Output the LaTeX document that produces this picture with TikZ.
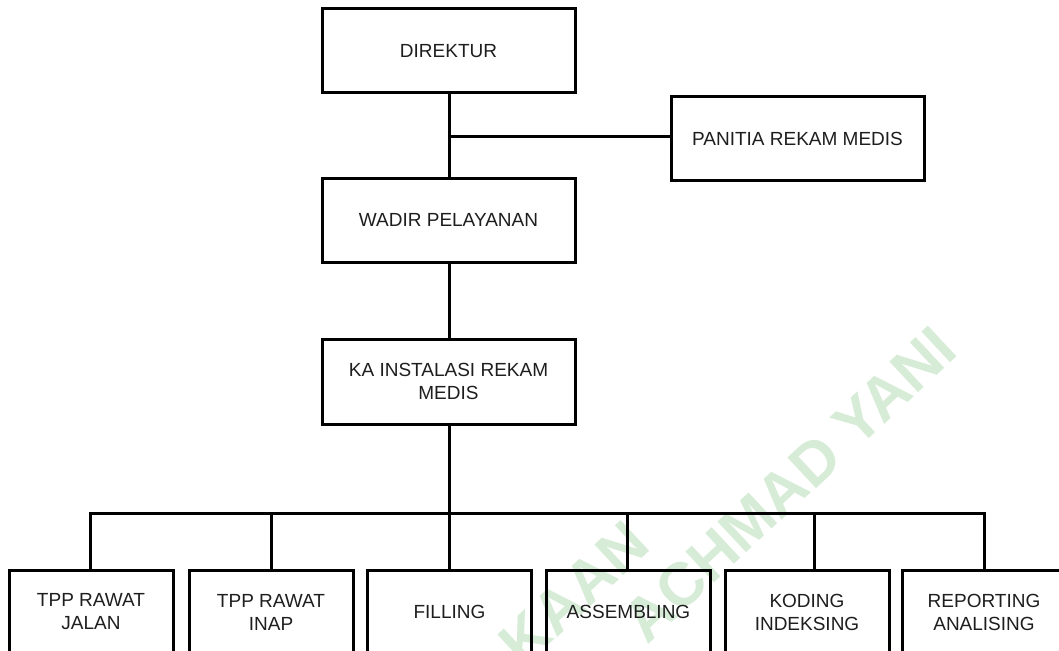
\documentclass[tikz,border=0pt]{standalone}
\usepackage{fontspec}
\setmainfont{Liberation Sans}
\usetikzlibrary{calc}
\definecolor{wm}{RGB}{214,236,214}
\definecolor{txt}{RGB}{30,30,30}
\tikzset{
  box/.style={draw=black, line width=3pt, minimum width=253pt, minimum height=84pt,
    inner sep=0pt, align=center, text=txt, font=\fontsize{19}{23}\selectfont},
  sbox/.style={box, minimum width=164pt},
  link/.style={draw=black, line width=3pt},
  wmark/.style={text=wm, font=\bfseries\fontsize{61}{61}\selectfont, inner sep=0pt, rotate=43}
}
\begin{document}
\begin{tikzpicture}[x=1pt,y=-1pt]
\useasboundingbox (0,0) rectangle (1059,650);
\clip (0,0) rectangle (1059,650);
\fill[white] (0,0) rectangle (1059,650);
% watermark
\node[wmark, anchor=base east] (wm1) at (653,548) {KAAN};
\node[wmark, anchor=base west] (wm2) at (647,646) {ACHMAD YANI};
% boxes
\node[box] (dir) at (448.5,51) {DIREKTUR};
\node[box, minimum height=83pt] (pan) at (797.5,138.5) {PANITIA REKAM MEDIS};
\node[box] (wad) at (448.5,220) {WADIR PELAYANAN};
\node[box, minimum height=85pt] (ka) at (448.5,381.5) {KA INSTALASI REKAM\\MEDIS};
\node[sbox] (b1) at (91,612) {TPP RAWAT\\JALAN};
\node[sbox] (b2) at (271,612) {TPP RAWAT\\INAP};
\node[sbox] (b3) at (449.5,612) {FILLING};
\node[sbox] (b4) at (628.5,612) {ASSEMBLING};
\node[sbox] (b5) at (807,612) {KODING\\INDEKSING};
\node[sbox] (b6) at (984,612) {REPORTING\\ANALISING};
% connectors
\coordinate (t) at (449,136);
\coordinate (j) at (449,513);
\draw[link] (dir.south -| t) -- (wad.north -| t);
\draw[link] (t) -- (pan.west |- t);
\draw[link] (wad.south -| t) -- (ka.north -| t);
\draw[link] (ka.south -| j) -- (j);
\draw[link] (j) -| ([xshift=-1pt]b1.north);
\draw[link] (j) -| (b2.north);
\draw[link] (j) -- (b3.north -| j);
\draw[link] (j) -| ([xshift=-1.5pt]b4.north);
\draw[link] (j) -| ([xshift=7pt]b5.north);
\draw[link] (j) -| (b6.north);
\end{tikzpicture}
\end{document}
